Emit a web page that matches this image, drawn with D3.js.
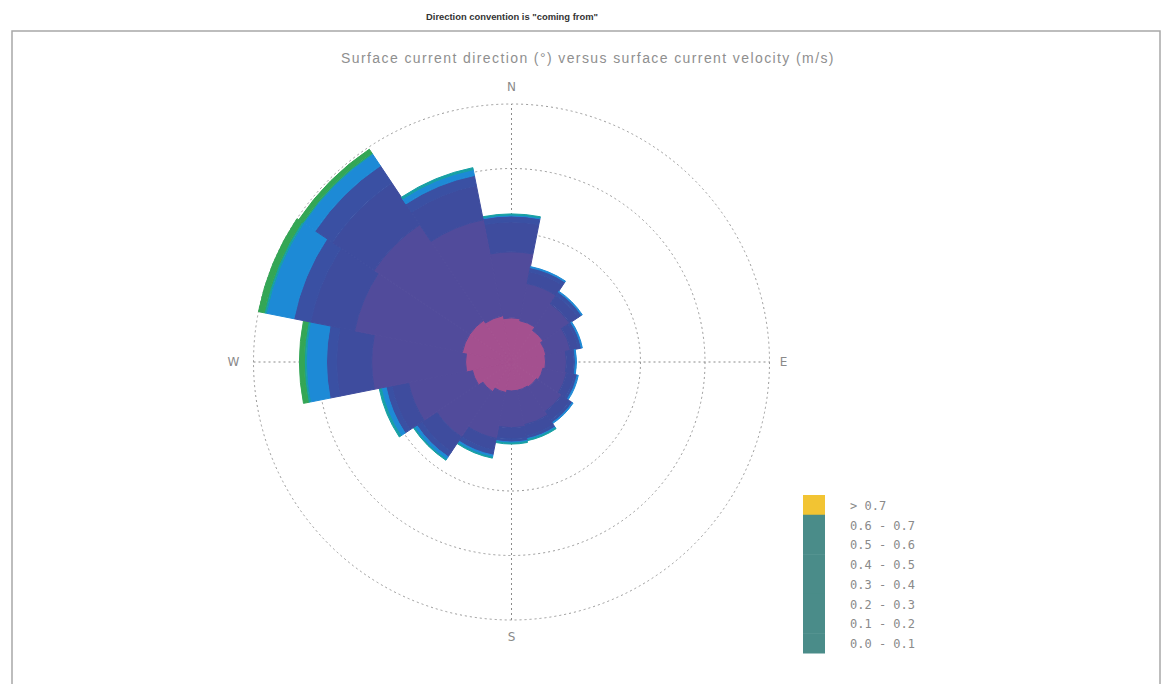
<!DOCTYPE html>
<html>
<head>
<meta charset="utf-8">
<script src="https://cdn.jsdelivr.net/npm/d3@7"></script>
<style>
  html, body { margin: 0; padding: 0; background: #fff; }
  svg { display: block; }
</style>
</head>
<body>
<svg id="chart" width="1164" height="684"></svg>
<script>
// ---- data ----
const directions = ["N","NNE","NE","ENE","E","ESE","SE","SSE","S","SSW","SW","WSW","W","WNW","NW","NNW"];
const directionAngles = [0,22.5,45,67.5,90,112.5,135,157.5,180,202.5,225,247.5,270,292.5,315,337.5];
const speedBins = ["0.0 - 0.1","0.1 - 0.2","0.2 - 0.3","0.3 - 0.4","0.4 - 0.5","0.5 - 0.6","0.6 - 0.7","> 0.7"];
// frequency (%) per direction for each speed bin
const speed00_01 = [1.71,1.63,1.47,1.36,1.32,1.24,1.16,1.12,1.12,1.20,1.36,1.55,1.78,1.94,1.94,1.82];
const speed01_02 = [2.56,1.47,1.24,0.97,0.81,0.93,1.16,1.36,1.43,1.82,2.13,2.52,3.64,4.26,4.46,3.80];
const speed02_03 = [1.16,0.47,0.39,0.31,0.27,0.31,0.39,0.43,0.43,0.47,0.70,0.66,1.36,1.74,1.94,1.36];
const speed03_04 = [0.23,0.16,0.16,0.12,0.08,0.12,0.12,0.12,0.12,0.19,0.23,0.23,0.39,0.66,0.81,0.39];
const speed04_05 = [0.04,0.04,0.04,0.04,0.04,0.04,0.04,0.04,0.04,0.08,0.12,0.19,0.78,1.09,0.54,0.23];
const speed05_06 = [0.04,0.00,0.00,0.00,0.00,0.00,0.00,0.04,0.04,0.04,0.04,0.08,0.08,0.08,0.04,0.08];
const speed06_07 = [0.00,0.00,0.00,0.00,0.00,0.00,0.00,0.00,0.00,0.00,0.00,0.00,0.19,0.23,0.19,0.00];
const speedAbove07 = [0,0,0,0,0,0,0,0,0,0,0,0,0,0,0,0];
const gridTicks = [2.5, 5, 7.5, 10];
const compassLabels = ["N","E","S","W"];
const legendLabels = ["> 0.7","0.6 - 0.7","0.5 - 0.6","0.4 - 0.5","0.3 - 0.4","0.2 - 0.3","0.1 - 0.2","0.0 - 0.1"];

const series = [speed00_01, speed01_02, speed02_03, speed03_04, speed04_05, speed05_06, speed06_07, speedAbove07];
const binColors = ["#a4508f","#514b9b","#3e4c9e","#3a50a3","#1d8ad6","#17a0a4","#34a655","#f2c12e"];
const legendColors = ["#f2c433","#4a8c89","#4a8c89","#4a8c89","#4a8c89","#4a8c89","#4a8c89","#4a8c89"];

// ---- layout ----
const svg = d3.select("#chart");
const W = 1164, H = 684;
const cx = 511.5, cy = 362, R = 258;

// frame
svg.append("path")
  .attr("d", `M12,${H} L12,31 L1160,31 L1160,${H}`)
  .attr("fill", "none").attr("stroke", "#a8a8a8").attr("stroke-width", 1.5);

// titles
svg.append("text").attr("x", 512).attr("y", 20).attr("text-anchor", "middle")
  .attr("font-family", "Liberation Sans, Arial, sans-serif").attr("font-size", 9.4).attr("font-weight", "bold")
  .attr("fill", "#333").text('Direction convention is "coming from"');
svg.append("text").attr("x", 588).attr("y", 63).attr("text-anchor", "middle")
  .attr("font-family", "Liberation Sans, Arial, sans-serif").attr("font-size", 14)
  .attr("letter-spacing", 1.4)
  .attr("fill", "#8f8f8f").text("Surface current direction (°) versus surface current velocity (m/s)");

const r = d3.scaleLinear().domain([0, 10]).range([0, R]);
const g = svg.append("g").attr("transform", `translate(${cx},${cy})`);

// grid
g.selectAll("circle.grid").data(gridTicks).join("circle")
  .attr("class", "grid").attr("r", d => r(d))
  .attr("fill", "none").attr("stroke", "#9a9a9a").attr("stroke-width", 1)
  .attr("stroke-dasharray", "2,3");
[[0,-1],[1,0]].forEach(([dx,dy]) => {
  g.append("line").attr("x1", -dx*R).attr("y1", -dy*R).attr("x2", dx*R).attr("y2", dy*R)
    .attr("stroke", "#8a8a8a").attr("stroke-width", 1).attr("stroke-dasharray", "2,3");
});

// stacked bars
const stackedData = directions.map((d, i) => {
  let acc = 0;
  return series.map((s, k) => {
    const lo = acc; acc += s[i];
    return { dir: d, angle: directionAngles[i], k, lo, hi: acc };
  });
});
const half = 11.25 * Math.PI / 180;
const arc = d3.arc();
const flat = stackedData.flat().filter(d => d.hi > d.lo);
g.selectAll("path.bar").data(flat).join("path")
  .attr("class", "bar")
  .attr("d", d => arc({
    innerRadius: r(d.lo), outerRadius: r(d.hi),
    startAngle: d.angle * Math.PI / 180 - half, endAngle: d.angle * Math.PI / 180 + half
  }))
  .attr("fill", d => binColors[d.k])
  .attr("stroke", d => binColors[d.k]).attr("stroke-width", 1).attr("stroke-linejoin", "round");

// compass labels
const labelPos = { N: [0, -R - 17], E: [R + 14, 0], S: [0, R + 17], W: [-R - 20, 0] };
compassLabels.forEach(c => {
  g.append("text").attr("x", labelPos[c][0]).attr("y", labelPos[c][1])
    .attr("text-anchor", "middle").attr("dominant-baseline", "central")
    .attr("font-family", "DejaVu Sans, sans-serif").attr("font-size", 12)
    .attr("fill", "#8a8a8a").text(c);
});

// legend
const ly = d3.scaleBand().domain(legendLabels).range([495, 653]);
const lg = svg.append("g");
lg.selectAll("rect").data(legendLabels).join("rect")
  .attr("x", 803).attr("y", d => ly(d)).attr("width", 22).attr("height", ly.bandwidth() + 0.5)
  .attr("fill", (d, i) => legendColors[i]);
lg.selectAll("text").data(legendLabels).join("text")
  .attr("x", 850).attr("y", d => ly(d) + ly.bandwidth() / 2 + 1)
  .attr("dominant-baseline", "central")
  .attr("font-family", "DejaVu Sans Mono, monospace").attr("font-size", 12)
  .attr("fill", "#8a8a8a").text(d => d);
</script>
</body>
</html>
